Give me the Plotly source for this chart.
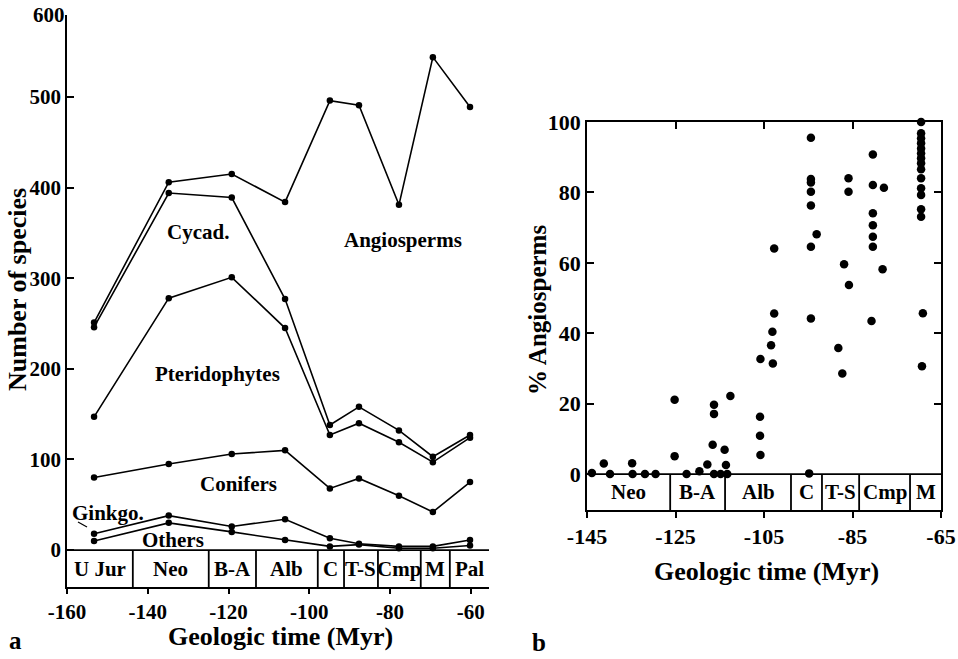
import plotly.graph_objects as go

# ---------------- data: panel a (species counts per group, stacked) ----------------
time_a = [-153.3, -134.8, -119.2, -106.0, -94.9, -87.7, -77.8, -69.4, -60.2]
others = [10, 30, 20, 11, 4, 6, 2, 2, 5]
ginkgo = [8, 8, 6, 23, 9, 1, 2, 2, 6]
conifers = [62, 57, 80, 76, 55, 72, 56, 38, 64]
pteridophytes = [67, 183, 195, 135, 59, 61, 59, 55, 49]
cycads = [99, 116, 88, 32, 11, 18, 13, 6, 3]
angiosperms = [5, 12, 26, 107, 358, 333, 249, 441, 362]

stages_a = ["U Jur", "Neo", "B-A", "Alb", "C", "T-S", "Cmp", "M", "Pal"]
bounds_a = [-160, -143.7, -124.9, -113.2, -97.9, -91.4, -83.0, -72.4, -65.2, -55.5]

# ---------------- data: panel b (% angiosperms per flora) ----------------
time_b = [-143.9, -141.2, -139.8, -134.8, -134.7, -131.9, -129.5,
          -125.2, -125.2, -122.5, -119.6, -117.8, -116.3, -116.3, -116.6, -116.3, -114.8,
          -113.9, -113.6, -113.3, -112.6,
          -105.9, -105.9, -105.8, -105.8, -103.0, -103.4, -103.1, -102.7, -102.7,
          -94.8, -94.4, -94.4, -93.1, -94.4, -94.4, -94.4, -94.4, -94.4,
          -88.2, -87.3, -86.9, -85.8, -85.9, -85.9,
          -80.7, -80.4, -80.4, -80.4, -80.4, -80.4, -80.4, -77.9, -78.2,
          -69.3, -69.1, -69.5, -69.5, -69.5, -69.5, -69.5, -69.5, -69.5, -69.5, -69.5,
          -69.5, -69.5, -69.5, -69.5, -69.5]
pct_b = [0.3, 3.0, 0.0, 3.1, 0.0, 0.0, 0.0,
         21.1, 5.1, 0.0, 0.8, 2.7, 19.7, 17.1, 8.3, 0.0, 0.0,
         6.9, 2.6, 0.0, 22.2,
         16.3, 10.9, 5.4, 32.7, 31.4, 36.6, 40.4, 45.6, 64.1,
         0.2, 44.2, 64.6, 68.1, 76.3, 80.2, 82.8, 83.8, 95.5,
         35.8, 28.6, 59.6, 53.7, 80.2, 84.0,
         43.5, 64.6, 67.4, 70.7, 74.1, 82.1, 90.8, 81.3, 58.2,
         30.6, 45.7, 73.1, 75.2, 79.3, 81.2, 84.0, 86.6, 88.3, 89.7, 91.1,
         92.5, 94.0, 95.4, 96.8, 100.0]

stages_b = ["Neo", "B-A", "Alb", "C", "T-S", "Cmp", "M"]
bounds_b = [-145, -126.2, -113.8, -98.9, -91.9, -83.5, -72.0, -65]

xticks_a = [-160, -140, -120, -100, -80, -60]
yticks_a = [0, 100, 200, 300, 400, 500]
xticks_b = [-145, -125, -105, -85, -65]
yticks_b = [0, 20, 40, 60, 80, 100]

# ---------------- style ----------------
W, H = 958, 659
FAM = "Liberation Serif"
BLACK = "black"
LW = 1.8


def font(size):
    return dict(family=FAM, size=size, color=BLACK, weight="bold")


def px(x, y):
    return x / W, 1 - y / H


YA_RANGE = [-40.8, 590.5]
XA_RANGE = [-160, -55.5]
YB_RANGE = [-10.2, 100]
XB_RANGE = [-145, -65]

fig = go.Figure()

groups = [others, ginkgo, conifers, pteridophytes, cycads, angiosperms]
names = ["Others", "Ginkgo.", "Conifers", "Pteridophytes", "Cycad.", "Angiosperms"]
for vals, nm in zip(groups, names):
    fig.add_trace(go.Scatter(
        x=time_a, y=vals, name=nm, stackgroup="a", fill="none",
        mode="lines+markers", line=dict(color=BLACK, width=1.6),
        marker=dict(size=6.5, color=BLACK), xaxis="x", yaxis="y",
        cliponaxis=False))

fig.add_trace(go.Scatter(
    x=time_b, y=pct_b, mode="markers", marker=dict(size=8.5, color=BLACK),
    xaxis="x2", yaxis="y2", cliponaxis=False))

# dummy trace for the mirror axes of panel b
fig.add_trace(go.Scatter(x=[None], y=[None], xaxis="x3", yaxis="y3",
                         hoverinfo="skip", showlegend=False))

axis_common = dict(showgrid=False, zeroline=False, showline=True, automargin=False,
                   linecolor=BLACK, linewidth=LW, tickcolor=BLACK, tickwidth=LW)


def labels(vals):
    return [str(v) for v in vals]


fig.update_layout(
    width=W, height=H, margin=dict(l=0, r=0, t=0, b=0, pad=0, autoexpand=False),
    paper_bgcolor="white", plot_bgcolor="white", showlegend=False,
    xaxis=dict(domain=[67 / W, 489 / W], range=XA_RANGE, tickvals=xticks_a,
               ticktext=labels(xticks_a),
               ticks="outside", ticklen=5, anchor="y", tickfont=font(21),
               **axis_common),
    yaxis=dict(domain=[1 - 587 / H, 1 - 15 / H], range=YA_RANGE, tickvals=yticks_a,
               ticktext=labels(yticks_a),
               ticks="inside", ticklen=7, anchor="x", tickfont=font(21),
               **axis_common),
    xaxis2=dict(domain=[587 / W, 941 / W], range=XB_RANGE, tickvals=xticks_b,
                ticktext=labels(xticks_b),
                ticks="outside", ticklen=6, anchor="y2", tickfont=font(22),
                **axis_common),
    yaxis2=dict(domain=[1 - 510 / H, 1 - 122 / H], range=YB_RANGE, tickvals=yticks_b,
                ticktext=labels(yticks_b),
                ticks="inside", ticklen=7, anchor="x2", tickfont=font(22),
                **axis_common),
    xaxis3=dict(overlaying="x2", side="top", anchor="y2", range=XB_RANGE,
                tickvals=[-125, -105, -85], ticks="inside", ticklen=7,
                showticklabels=False, **axis_common),
    yaxis3=dict(overlaying="y2", side="right", anchor="x2", range=YB_RANGE,
                tickvals=[20, 40, 60, 80], ticks="inside", ticklen=7,
                showticklabels=False, **axis_common),
)

shapes = []
ann = []
# stage boxes panel a
shapes.append(dict(type="line", xref="x", yref="y", x0=XA_RANGE[0], x1=XA_RANGE[1],
                   y0=0, y1=0, line=dict(color=BLACK, width=LW)))
for b in bounds_a[1:-1]:
    shapes.append(dict(type="line", xref="x", yref="y", x0=b, x1=b,
                       y0=YA_RANGE[0], y1=0, line=dict(color=BLACK, width=LW)))
for i, s in enumerate(stages_a):
    ann.append(dict(xref="x", yref="y", x=(bounds_a[i] + bounds_a[i + 1]) / 2,
                    y=YA_RANGE[0] / 2, text=s, showarrow=False, font=font(21)))
# stage boxes panel b
shapes.append(dict(type="line", xref="x2", yref="y2", x0=XB_RANGE[0], x1=XB_RANGE[1],
                   y0=0, y1=0, line=dict(color=BLACK, width=LW)))
for b in bounds_b[1:-1]:
    shapes.append(dict(type="line", xref="x2", yref="y2", x0=b, x1=b,
                       y0=YB_RANGE[0], y1=0, line=dict(color=BLACK, width=LW)))
for i, s in enumerate(stages_b):
    ann.append(dict(xref="x2", yref="y2", x=(bounds_b[i] + bounds_b[i + 1]) / 2,
                    y=YB_RANGE[0] / 2, text=s, showarrow=False, font=font(21)))

# "600" label at the top of the left axis
ann.append(dict(xref="paper", yref="y", x=67 / W, y=YA_RANGE[1], text="600",
                xanchor="right", yanchor="middle", showarrow=False, font=font(21)))


def txt(x, y, t, size=20, angle=0):
    xp, yp = px(x, y)
    ann.append(dict(xref="paper", yref="paper", x=xp, y=yp, text=t, showarrow=False,
                    xanchor="center", yanchor="middle", textangle=angle, font=font(size)))


# group labels
txt(198, 232, "Cycad.", 21)
txt(403, 240, "Angiosperms", 21)
txt(217, 374, "Pteridophytes", 21)
txt(238, 484, "Conifers", 21)
txt(108, 513, "Ginkgo.", 21)
txt(173, 540, "Others", 21)
x0, y0 = px(78, 522)
x1, y1 = px(87, 527)
shapes.append(dict(type="line", xref="paper", yref="paper", x0=x0, y0=y0, x1=x1, y1=y1,
                   line=dict(color=BLACK, width=1.2)))

# axis titles
txt(18, 290, "Number of species", 26, -90)
txt(280, 636, "Geologic time (Myr)", 26)
txt(538, 310, "% Angiosperms", 25, -90)
txt(766, 571, "Geologic time (Myr)", 26)
# panel letters
txt(15, 640, "a", 25)
txt(539, 642, "b", 25)

fig.update_layout(shapes=shapes, annotations=ann)
fig.write_html("out.html", config={"displayModeBar": False},
               post_script="document.body.style.margin='0';"
                           "document.body.style.overflow='hidden';")
